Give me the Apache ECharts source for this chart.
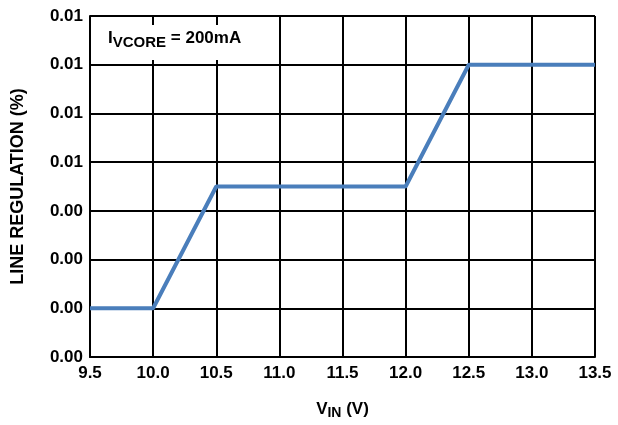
<!DOCTYPE html>
<html><head><meta charset="utf-8">
<script src="https://cdn.jsdelivr.net/npm/echarts@6/dist/echarts.min.js"></script>
<style>html,body{margin:0;padding:0;background:#fff}#c{width:618px;height:425px}</style>
</head><body><div id="c"></div>
<script>
var xValues = [9.5, 10.0, 10.5, 12.0, 12.5, 13.5];
var yValues = [0.0015, 0.0015, 0.00525, 0.00525, 0.009, 0.009];
var yStep = 0.0015;
var yMax = 0.0105;
var xMin = 9.5, xMax = 13.5, xStep = 0.5;

var chart = echarts.init(document.getElementById('c'));
var font = '"Liberation Sans", Arial, sans-serif';
chart.setOption({
  animation: false,
  grid: {left: 90, right: 23, top: 16, bottom: 65, containLabel: false},
  xAxis: {
    type: 'value', min: xMin, max: xMax, interval: xStep,
    axisLine: {show: true, lineStyle: {color: '#000', width: 2}},
    axisTick: {show: false},
    splitLine: {show: true, lineStyle: {color: '#000', width: 2}},
    axisLabel: {color: '#000', fontFamily: font, fontWeight: 'bold', fontSize: 17, margin: 8,
      formatter: function (v) { return v.toFixed(1); }},
    name: '{a|V}{s|IN}{a| (V)}', nameLocation: 'middle', nameGap: 41,
    nameTextStyle: {rich: {
      a: {fontFamily: font, fontWeight: 'bold', fontSize: 17, color: '#000'},
      s: {fontFamily: font, fontWeight: 'bold', fontSize: 14, color: '#000', padding: [8, 0, 0, 0]}
    }}
  },
  yAxis: {
    type: 'value', min: 0, max: yMax, interval: yStep,
    axisLine: {show: true, lineStyle: {color: '#000', width: 2}},
    axisTick: {show: false},
    splitLine: {show: true, lineStyle: {color: '#000', width: 2}},
    axisLabel: {color: '#000', fontFamily: font, fontWeight: 'bold', fontSize: 17, margin: 7,
      formatter: function (v) { return v.toFixed(2); }},
    name: 'LINE REGULATION (%)', nameLocation: 'middle', nameGap: 63, nameRotate: 90,
    nameTextStyle: {color: '#000', fontFamily: font, fontWeight: 'bold', fontSize: 18}
  },
  series: [{
    type: 'line',
    data: xValues.map(function (x, i) { return [x, yValues[i]]; }),
    symbol: 'none',
    lineStyle: {color: '#4a7ebb', width: 4},
    z: 5
  }],
  graphic: [{
    type: 'rect', left: 93, top: 25, z: 10,
    shape: {width: 182, height: 35},
    style: {fill: '#fff'}
  }, {
    type: 'text', left: 108, top: 30, z: 11,
    style: {
      text: '{a|I}{s|VCORE}{a| = 200mA}',
      rich: {
        a: {fontFamily: font, fontWeight: 'bold', fontSize: 17, fill: '#000'},
        s: {fontFamily: font, fontWeight: 'bold', fontSize: 15, fill: '#000', padding: [9, 0, 0, 0]}
      }
    }
  }]
});
</script></body></html>
